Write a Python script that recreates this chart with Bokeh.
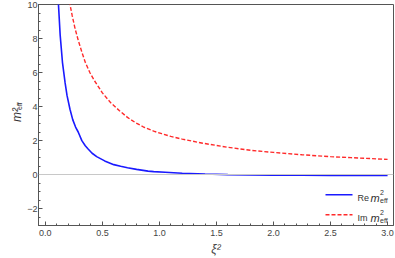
import math
from bokeh.plotting import figure
from bokeh.models import (Range1d, FixedTicker, Span, Label, Arrow)
from bokeh.embed import file_html
from bokeh.resources import INLINE

# ---- data ----
xi2_re = [0.10, 0.115, 0.13, 0.15, 0.173, 0.19, 0.216, 0.24, 0.265, 0.288, 0.32,
          0.35, 0.375, 0.41, 0.45, 0.52, 0.60, 0.66, 0.72, 0.80, 0.90, 0.95, 1.05,
          1.2, 1.4, 1.6, 1.8, 2.0, 2.25, 2.5, 2.75, 3.0]
re_m2 = [12.5, 10.0, 8.2, 6.6, 5.4, 4.65, 3.84, 3.23, 2.79, 2.5, 1.99,
         1.69, 1.5, 1.25, 1.05, 0.8, 0.58, 0.48, 0.4, 0.3, 0.2, 0.17, 0.13,
         0.07, 0.025, -0.01, -0.03, -0.04, -0.045, -0.05, -0.05, -0.05]

xi2_im = [0.20, 0.216, 0.235, 0.26, 0.288, 0.32, 0.35, 0.39, 0.432, 0.50, 0.576,
          0.65, 0.72, 0.79, 0.864, 0.95, 1.02, 1.1, 1.2, 1.38, 1.6, 1.815, 2.0,
          2.25, 2.5, 2.68, 3.0]
im_m2 = [10.9, 10.0, 9.36, 8.6, 7.9, 7.2, 6.6, 6.0, 5.5, 4.8, 4.2,
         3.75, 3.36, 3.05, 2.78, 2.55, 2.4, 2.24, 2.08, 1.84, 1.6, 1.41, 1.3,
         1.16, 1.05, 0.99, 0.89]

x_ticks = [0.0, 0.5, 1.0, 1.5, 2.0, 2.5, 3.0]
x_minor = [i / 10 for i in range(0, 31)]
y_ticks = [-2, 0, 2, 4, 6, 8, 10]
y_minor = [i / 2 for i in range(-6, 21)]
y_tick_labels = {-2: "\u22122", 0: "0", 2: "2", 4: "4", 6: "6", 8: "8", 10: "10"}
series_names = ["Re", "Im"]
series_colors = ["#1a1aff", "#ff2a2a"]

FONT = "Liberation Sans"
W, H = 395, 258
BL, BR, BT, BB = 33, 2, 4, 30
FW, FH = W - BL - BR, H - BT - BB

p = figure(width=W, height=H, output_backend="svg", toolbar_location=None,
           x_range=Range1d(-0.06, 3.052), y_range=Range1d(-3, 10),
           min_border_left=BL, min_border_right=BR, min_border_top=BT,
           min_border_bottom=BB)
p.background_fill_color = "white"
p.border_fill_color = "white"
p.outline_line_color = "#555555"
p.outline_line_width = 1
p.xgrid.visible = False
p.ygrid.visible = False

for ax in (p.xaxis[0], p.yaxis[0]):
    ax.axis_line_color = "#555555"
    ax.major_tick_line_color = "#555555"
    ax.minor_tick_line_color = "#555555"
    ax.major_tick_in = 4
    ax.major_tick_out = 0
    ax.minor_tick_in = 2
    ax.minor_tick_out = 0
    ax.major_label_text_font = FONT
    ax.major_label_text_font_size = "9px"
    ax.major_label_text_color = "#444444"
    ax.major_label_standoff = 4

p.xaxis.ticker = FixedTicker(ticks=x_ticks, minor_ticks=x_minor)
p.xaxis.major_label_overrides = {t: f"{t:.1f}" for t in x_ticks}
p.xaxis.axis_label = "\u03be\u00b2"
p.xaxis.axis_label_text_font = FONT
p.xaxis.axis_label_text_font_size = "12px"
p.xaxis.axis_label_text_font_style = "italic"
p.xaxis.axis_label_text_color = "#444444"
p.xaxis.axis_label_standoff = 3

p.yaxis.ticker = FixedTicker(ticks=y_ticks, minor_ticks=y_minor)
p.yaxis.major_label_overrides = y_tick_labels
p.yaxis.major_label_standoff = 1
p.yaxis.axis_label = "m\u00b2"
p.yaxis.axis_label_text_font = FONT
p.yaxis.axis_label_text_font_size = "12px"
p.yaxis.axis_label_text_font_style = "italic"
p.yaxis.axis_label_text_color = "#333333"
p.yaxis.axis_label_standoff = 0

p.add_layout(Span(location=0, dimension="width", line_color="#c8c8c8", line_width=1))

p.line(xi2_re, re_m2, line_color=series_colors[0], line_width=1.6)
p.line(xi2_im, im_m2, line_color=series_colors[1], line_width=1.4, line_dash="4 2")


def lbl(text, x, y, size, style="normal", angle=0.0, color="#333333", place="center"):
    p.add_layout(Label(x=x, y=y, x_units="screen", y_units="screen", text=text,
                       text_font=FONT, text_font_size=size, text_font_style=style,
                       text_color=color, angle=angle, text_baseline="alphabetic",
                       text_align="left"), place)


# legend (bottom right), drawn in screen units relative to the frame
sx0, sx1 = FW - 73, FW - 46
for i, (name, color) in enumerate(zip(series_names, series_colors)):
    cy = 30.7 - 20 * i
    p.add_layout(Arrow(x_start=sx0, y_start=cy, x_end=sx1, y_end=cy,
                       start_units="screen", end_units="screen", end=None,
                       line_color=color, line_width=1.4 if i else 1.6,
                       line_dash="4 2" if i else "solid"))
    tx = sx1 + 5
    lbl(name, tx, cy - 3.3, "9px")
    mx = tx + 13
    lbl("m", mx, cy - 3.5, "11px", "italic")
    lbl("2", mx + 9.5, cy + 2.0, "7px")
    lbl("eff", mx + 9.5, cy - 5.8, "7px")

# subscript "eff" of the y-axis label (side panel, so it is not clipped)
lbl("eff", 19.0, FH / 2 + 3.5, "7px", angle=math.pi / 2, place="left")

open("out.html", "w").write(file_html(p, INLINE))
